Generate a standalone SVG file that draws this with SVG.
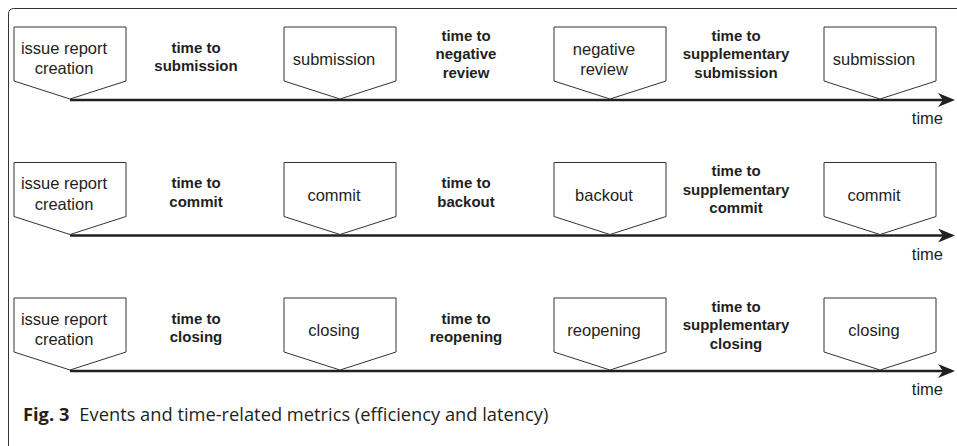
<svg xmlns="http://www.w3.org/2000/svg" width="957" height="446" viewBox="0 0 957 446">
<style>
.box{fill:#fff;stroke:#333;stroke-width:1}
.n{font-family:"Liberation Sans",Arial,sans-serif;font-size:16.5px;fill:#231f20;text-anchor:middle}
.b{font-family:"Liberation Sans",Arial,sans-serif;font-size:15px;font-weight:bold;fill:#231f20;text-anchor:middle}
.t{font-family:"Liberation Sans",Arial,sans-serif;font-size:16.5px;fill:#231f20;text-anchor:end}
.axis{stroke:#231f20;stroke-width:2.6;fill:none}
.cap{font-family:"Open Sans","Noto Sans",sans-serif;font-size:18.3px;fill:#231f20}
</style>
<defs>
<marker id="arr" viewBox="0 0 17 14" refX="5" refY="7" markerWidth="17" markerHeight="14" markerUnits="userSpaceOnUse" orient="auto">
<path d="M0,0 L17,7 L0,14 L5,7 Z" fill="#231f20"/>
</marker>
<path id="pent" d="M0,27 H112 V81 L56,99 L0,81 Z"/>
</defs>
<rect x="8.5" y="8.5" width="970" height="460" rx="5" fill="none" stroke="#333" stroke-width="1"/>

<g id="connectors">
<line class="axis" x1="70" y1="100" x2="943" y2="100" marker-end="url(#arr)"/>
<line class="axis" x1="70" y1="235.5" x2="943" y2="235.5" marker-end="url(#arr)"/>
<line class="axis" x1="70" y1="371" x2="943" y2="371" marker-end="url(#arr)"/>
</g>

<!-- Row 1 -->
<g id="r1-issue"><use href="#pent" class="box" x="14" y="0"/><text class="n" x="64" y="53.5">issue report</text><text class="n" x="64" y="74">creation</text></g>
<g id="r1-submission"><use href="#pent" class="box" x="284" y="0"/><text class="n" x="334" y="65">submission</text></g>
<g id="r1-negreview"><use href="#pent" class="box" x="554" y="0"/><text class="n" x="604" y="55">negative</text><text class="n" x="604" y="75">review</text></g>
<g id="r1-submission2"><use href="#pent" class="box" x="824" y="0"/><text class="n" x="874" y="65">submission</text></g>
<g id="r1-m1"><text class="b" x="196" y="52.5">time to</text><text class="b" x="196" y="71">submission</text></g>
<g id="r1-m2"><text class="b" x="466" y="40.5">time to</text><text class="b" x="466" y="59">negative</text><text class="b" x="466" y="77.5">review</text></g>
<g id="r1-m3"><text class="b" x="736" y="40.5">time to</text><text class="b" x="736" y="59">supplementary</text><text class="b" x="736" y="77.5">submission</text></g>
<text class="t" x="943" y="124">time</text>

<!-- Row 2 -->
<g id="r2-issue"><use href="#pent" class="box" x="14" y="135.5"/><text class="n" x="64" y="189">issue report</text><text class="n" x="64" y="209.5">creation</text></g>
<g id="r2-commit"><use href="#pent" class="box" x="284" y="135.5"/><text class="n" x="334" y="200.5">commit</text></g>
<g id="r2-backout"><use href="#pent" class="box" x="554" y="135.5"/><text class="n" x="604" y="200.5">backout</text></g>
<g id="r2-commit2"><use href="#pent" class="box" x="824" y="135.5"/><text class="n" x="874" y="200.5">commit</text></g>
<g id="r2-m1"><text class="b" x="196" y="188">time to</text><text class="b" x="196" y="206.5">commit</text></g>
<g id="r2-m2"><text class="b" x="466" y="188">time to</text><text class="b" x="466" y="206.5">backout</text></g>
<g id="r2-m3"><text class="b" x="736" y="176">time to</text><text class="b" x="736" y="194.5">supplementary</text><text class="b" x="736" y="213">commit</text></g>
<text class="t" x="943" y="259.5">time</text>

<!-- Row 3 -->
<g id="r3-issue"><use href="#pent" class="box" x="14" y="271"/><text class="n" x="64" y="324.5">issue report</text><text class="n" x="64" y="345">creation</text></g>
<g id="r3-closing"><use href="#pent" class="box" x="284" y="271"/><text class="n" x="334" y="336">closing</text></g>
<g id="r3-reopening"><use href="#pent" class="box" x="554" y="271"/><text class="n" x="604" y="336">reopening</text></g>
<g id="r3-closing2"><use href="#pent" class="box" x="824" y="271"/><text class="n" x="874" y="336">closing</text></g>
<g id="r3-m1"><text class="b" x="196" y="323.5">time to</text><text class="b" x="196" y="342">closing</text></g>
<g id="r3-m2"><text class="b" x="466" y="323.5">time to</text><text class="b" x="466" y="342">reopening</text></g>
<g id="r3-m3"><text class="b" x="736" y="311.5">time to</text><text class="b" x="736" y="330">supplementary</text><text class="b" x="736" y="348.5">closing</text></g>
<text class="t" x="943" y="395">time</text>

<text class="cap" x="23" y="421"><tspan font-weight="bold">Fig. 3</tspan><tspan dx="10">Events and time-related metrics (efficiency and latency)</tspan></text>
</svg>
